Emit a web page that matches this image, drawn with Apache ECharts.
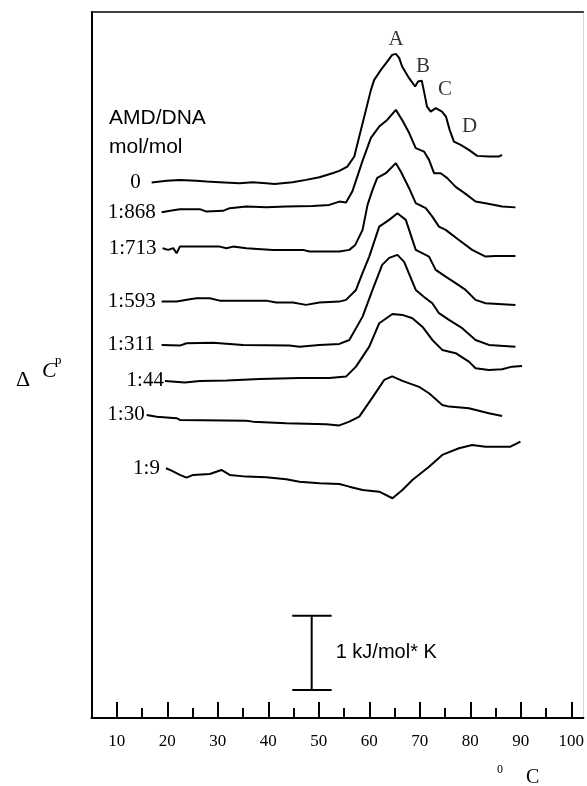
<!DOCTYPE html>
<html>
<head>
<meta charset="utf-8">
<script src="https://cdn.jsdelivr.net/npm/echarts@6/dist/echarts.min.js"></script>
<style>html,body{margin:0;padding:0;background:#fff}#c{width:587px;height:786px}</style>
</head>
<body>
<div id="c"></div>
<script>
// Temperature (°C) vs. stacked excess heat capacity (kJ/mol·K, curves offset vertically)
const ratios = ['0', '1:868', '1:713', '1:593', '1:311', '1:44', '1:30', '1:9'];

const curve0 = [[16.91,7.205],[19.87,7.228],[22.50,7.241],[25.80,7.228],[27.77,7.218],[30.39,7.210],[34.34,7.197],[36.91,7.210],[39.61,7.197],[41.25,7.187],[44.80,7.210],[47.50,7.241],[50.13,7.277],[52.70,7.331],[54.08,7.362],[55.66,7.420],[57.04,7.555],[58.02,7.824],[59.35,8.183],[60.33,8.452],[60.98,8.587],[62.31,8.721],[63.55,8.833],[64.54,8.923],[65.27,8.937],[65.92,8.883],[66.51,8.766],[67.89,8.610],[69.08,8.497],[69.67,8.564],[70.40,8.577],[70.85,8.429],[71.44,8.227],[72.17,8.160],[73.16,8.206],[74.40,8.160],[75.19,8.093],[75.92,7.914],[76.77,7.756],[78.10,7.712],[79.73,7.645],[81.37,7.564],[83.68,7.555],[85.65,7.555],[86.31,7.577]];
const curve868 = [[18.89,6.806],[20.86,6.828],[22.50,6.847],[26.45,6.847],[27.77,6.814],[31.04,6.824],[32.37,6.860],[35.66,6.882],[39.61,6.873],[43.56,6.882],[48.81,6.891],[52.10,6.904],[54.08,6.949],[55.40,6.938],[56.64,7.083],[58.62,7.487],[60.33,7.806],[61.97,7.958],[63.55,8.048],[65.27,8.183],[66.51,8.048],[67.89,7.874],[69.21,7.668],[70.85,7.622],[71.84,7.510],[72.83,7.331],[74.15,7.331],[75.45,7.264],[77.11,7.147],[79.08,7.053],[81.05,6.949],[83.03,6.927],[86.31,6.882],[88.95,6.871]];
const curve713 = [[19.08,6.322],[20.19,6.299],[21.18,6.322],[21.85,6.254],[22.50,6.343],[30.39,6.343],[31.72,6.322],[33.02,6.343],[35.66,6.322],[40.91,6.299],[46.83,6.299],[48.16,6.276],[54.08,6.276],[56.05,6.299],[57.23,6.366],[58.68,6.568],[59.66,6.904],[60.65,7.106],[61.58,7.268],[63.29,7.331],[65.27,7.466],[66.25,7.353],[67.89,7.129],[69.21,6.927],[71.19,6.860],[72.49,6.747],[73.81,6.612],[75.13,6.568],[77.76,6.433],[80.38,6.299],[83.03,6.209],[85.00,6.218],[88.95,6.218]];
const curve593 = [[18.89,5.603],[21.85,5.603],[24.47,5.635],[25.80,5.649],[28.42,5.649],[30.39,5.616],[39.61,5.616],[41.58,5.590],[44.86,5.590],[47.50,5.559],[50.13,5.590],[54.08,5.603],[55.40,5.626],[57.37,5.760],[58.68,5.989],[60.00,6.209],[61.97,6.612],[63.94,6.703],[65.58,6.793],[67.24,6.703],[69.21,6.299],[71.84,6.209],[73.16,6.030],[75.13,5.940],[77.11,5.851],[79.08,5.760],[81.05,5.626],[83.03,5.581],[88.95,5.559]];
const curve311 = [[18.89,5.020],[22.50,5.011],[23.82,5.043],[29.07,5.051],[34.99,5.020],[44.21,5.011],[46.18,4.997],[50.13,5.020],[54.08,5.034],[56.05,5.087],[58.68,5.401],[60.65,5.760],[62.56,6.097],[63.94,6.191],[65.58,6.232],[66.91,6.137],[69.21,5.760],[70.85,5.666],[72.49,5.581],[73.81,5.447],[75.79,5.357],[78.41,5.245],[81.05,5.087],[83.68,5.020],[88.95,4.997]];
const curve44 = [[19.54,4.536],[23.49,4.516],[26.45,4.536],[31.78,4.542],[38.29,4.563],[46.18,4.576],[52.10,4.576],[55.40,4.594],[57.37,4.728],[60.00,4.997],[61.97,5.312],[64.60,5.437],[66.57,5.424],[68.54,5.380],[70.52,5.266],[72.49,5.087],[74.46,4.953],[77.11,4.909],[79.73,4.795],[81.05,4.707],[83.68,4.684],[86.31,4.693],[88.28,4.728],[90.25,4.738]];
const curve30 = [[15.93,4.078],[17.90,4.055],[21.85,4.034],[22.50,4.011],[35.66,4.001],[36.97,3.988],[43.56,3.966],[51.45,3.953],[54.08,3.937],[56.05,3.988],[58.02,4.055],[60.65,4.314],[62.96,4.549],[64.54,4.596],[66.57,4.536],[69.87,4.455],[71.84,4.370],[74.46,4.213],[75.79,4.190],[79.73,4.168],[83.68,4.101],[86.31,4.065]];
const curve9 = [[19.74,3.361],[20.86,3.328],[22.50,3.271],[23.82,3.234],[25.12,3.271],[28.42,3.284],[30.73,3.338],[32.37,3.271],[35.66,3.248],[39.61,3.240],[43.56,3.213],[46.18,3.180],[50.13,3.159],[54.08,3.149],[56.05,3.113],[58.68,3.069],[61.97,3.046],[64.60,2.957],[66.57,3.069],[68.54,3.203],[71.84,3.382],[74.46,3.540],[77.76,3.630],[80.38,3.674],[83.03,3.651],[87.96,3.651],[89.94,3.719]];
const curves = [curve0, curve868, curve713, curve593, curve311, curve44, curve30, curve9];

// Peak labels on the free-DNA curve
const peakNames = ['A', 'B', 'C', 'D'];
const peakLabelAt = [[65.3, 9.125], [70.65, 8.762], [75.0, 8.452], [79.87, 7.958]];

// Scale bar: 1 kJ/mol*K
const scaleBarT = 48.6;
const scaleBarCapT = [44.75, 52.56];
const scaleBarCp = [0.377, 1.377];
const scaleBarText = '1 kJ/mol* K';

// Axis ticks
const xMajorTicks = [10, 20, 30, 40, 50, 60, 70, 80, 90, 100];
const xMinorTicks = [15, 25, 35, 45, 55, 65, 75, 85, 95];

const SERIF = '"Liberation Serif","Times New Roman",serif';
const SANS = '"Liberation Sans",Arial,sans-serif';
const labelGap = [11, 6, 6, 6, 7, 1, 2, 6];

const series = curves.map((c, i) => ({
  type: 'line',
  name: ratios[i],
  data: c.map((p, j) => j === 0 ? {
    value: p,
    label: { show: true, position: 'left', distance: labelGap[i], formatter: ratios[i],
             fontFamily: SERIF, fontSize: 21, color: '#000' }
  } : p),
  symbol: 'circle', symbolSize: 0, showSymbol: true, showAllSymbol: true,
  lineStyle: { color: '#000', width: 2 },
  itemStyle: { color: '#000' },
  silent: true, animation: false, z: 3
}));

series.push({
  type: 'scatter',
  data: peakLabelAt.map((p, i) => ({ value: p, name: peakNames[i] })),
  symbolSize: 0,
  label: { show: true, position: 'inside', formatter: '{b}', fontFamily: SERIF, fontSize: 21, color: '#000' },
  silent: true, animation: false
});

const barStyle = { color: '#000', width: 2 };
series.push({ type: 'line', data: [[scaleBarT, scaleBarCp[0]], [scaleBarT, scaleBarCp[1]]], symbol: 'none', lineStyle: barStyle, silent: true, animation: false });
series.push({ type: 'line', data: [[scaleBarCapT[0], scaleBarCp[0]], [scaleBarCapT[1], scaleBarCp[0]]], symbol: 'none', lineStyle: barStyle, silent: true, animation: false });
series.push({ type: 'line', data: [[scaleBarCapT[0], scaleBarCp[1]], [scaleBarCapT[1], scaleBarCp[1]]], symbol: 'none', lineStyle: barStyle, silent: true, animation: false,
  markPoint: { symbolSize: 0, silent: true,
    data: [{ coord: [scaleBarCapT[1], (scaleBarCp[0] + scaleBarCp[1]) / 2 ],
             label: { show: true, position: 'right', distance: 4, formatter: scaleBarText, fontFamily: SANS, fontSize: 20, color: '#000' } }] } });

const chart = echarts.init(document.getElementById('c'), null, { renderer: 'canvas' });
chart.setOption({
  animation: false,
  backgroundColor: '#fff',
  grid: { left: 91.5, right: 2, top: 12, bottom: 68 },
  xAxis: [
    { type: 'value', min: 5, max: 102.4, position: 'bottom',
      axisLine: { show: true, onZero: false, lineStyle: { color: '#000', width: 2 } },
      axisTick: { show: true, inside: true, length: 16, customValues: xMajorTicks, lineStyle: { color: '#000', width: 2 } },
      axisLabel: { show: true, customValues: xMajorTicks, margin: 15, fontFamily: SERIF, fontSize: 17, color: '#000' },
      splitLine: { show: false } },
    { type: 'value', min: 5, max: 102.4, position: 'bottom',
      axisLine: { show: false },
      axisTick: { show: true, inside: true, length: 10, customValues: xMinorTicks, lineStyle: { color: '#000', width: 2 } },
      axisLabel: { show: false }, splitLine: { show: false } },
    { type: 'value', min: 5, max: 102.4, position: 'top',
      axisLine: { show: true, onZero: false, lineStyle: { color: '#000', width: 1.5 } },
      axisTick: { show: false }, axisLabel: { show: false }, splitLine: { show: false } }
  ],
  yAxis: [
    { type: 'value', min: 0, max: 9.5, position: 'left',
      axisLine: { show: true, onZero: false, lineStyle: { color: '#000', width: 2 } },
      axisTick: { show: false }, axisLabel: { show: false }, splitLine: { show: false } },
    { type: 'value', min: 0, max: 9.5, position: 'right',
      axisLine: { show: true, onZero: false, lineStyle: { color: '#d8d8d8', width: 1 } },
      axisTick: { show: false }, axisLabel: { show: false }, splitLine: { show: false } }
  ],
  series: series,
  graphic: [
    { type: 'text', left: 109, top: 108, style: { text: 'AMD/DNA', font: '21px ' + SANS, fill: '#000' } },
    { type: 'text', left: 109, top: 137, style: { text: 'mol/mol', font: '21px ' + SANS, fill: '#000' } },
    { type: 'text', left: 16, top: 369, style: { text: 'Δ', font: '22px ' + SERIF, fill: '#000' } },
    { type: 'text', left: 42, top: 360, style: { text: 'C', font: 'italic 22px ' + SERIF, fill: '#000' } },
    { type: 'text', left: 55, top: 354, style: { text: 'p', font: '13px ' + SERIF, fill: '#000' } },
    { type: 'text', left: 497, top: 764, style: { text: '0', font: '12px ' + SERIF, fill: '#000' } },
    { type: 'text', left: 526, top: 768, style: { text: 'C', font: '20px ' + SERIF, fill: '#000' } }
  ]
});
</script>
</body>
</html>
